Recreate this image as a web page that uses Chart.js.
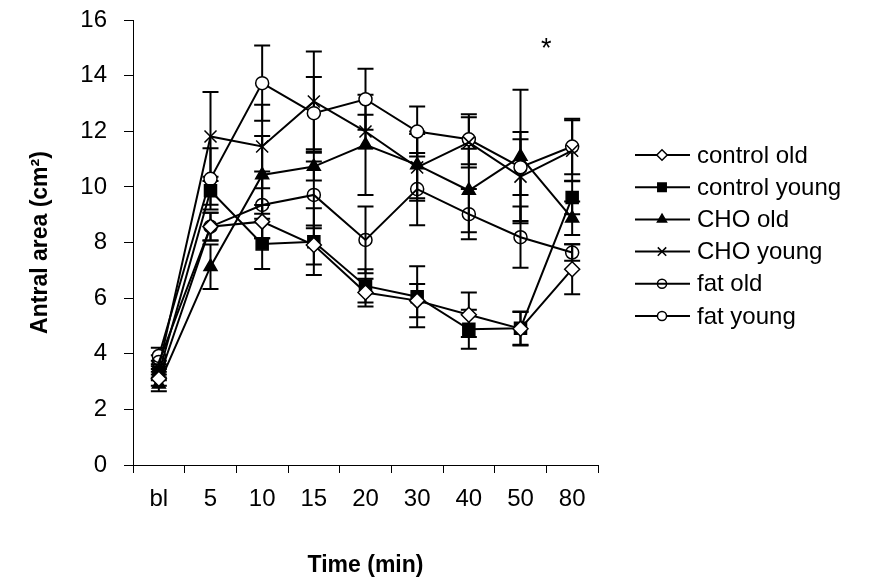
<!DOCTYPE html>
<html>
<head>
<meta charset="utf-8">
<script src="https://cdn.jsdelivr.net/npm/chart.js@4.4.0/dist/chart.umd.min.js"></script>
<style>
  html, body { margin: 0; padding: 0; background: #fff; }
  #wrap { width: 881px; height: 587px; }
</style>
</head>
<body>
<div id="wrap"><canvas id="myChart"></canvas></div>
<script>
// categories (x axis)
var labels = ['bl', '5', '10', '15', '20', '30', '40', '50', '80'];

// series means
var controlOld   = [3.1, 8.57, 8.75, 7.91, 6.2, 5.91, 5.4, 4.9, 7.04];
var controlYoung = [3.3, 9.86, 7.95, 8.03, 6.44, 6.05, 4.88, 4.92, 9.62];
var choOld       = [2.9, 7.13, 10.43, 10.73, 11.51, 10.79, 9.87, 11.09, 8.87];
var choYoung     = [3.5, 11.81, 11.45, 13.07, 11.99, 10.7, 11.6, 10.37, 11.3];
var fatOld       = [3.7, 8.57, 9.35, 9.71, 8.09, 9.92, 9.02, 8.19, 7.64];
var fatYoung     = [3.92, 10.29, 13.73, 12.65, 13.15, 11.99, 11.71, 10.71, 11.45];

// error bars (+/-)
var controlOldErr   = [0.25, 0.5, 0.6, 0.7, 0.5, 0.6, 0.8, 0.6, 0.9];
var controlYoungErr = [0.25, 0.5, 0.9, 1.2, 0.6, 1.1, 0.7, 0.6, 0.6];
var choOldErr       = [0.25, 0.8, 1.4, 0.5, 1.8, 1.2, 1.5, 2.4, 0.6];
var choYoungErr     = [0.25, 1.6, 1.5, 1.8, 0.6, 1.2, 0.9, 1.6, 1.1];
var fatOldErr       = [0.25, 0.5, 1.2, 1.2, 1.2, 1.3, 0.9, 1.1, 0.3];
var fatYoungErr     = [0.3, 1.1, 1.35, 1.3, 1.1, 0.9, 0.9, 1.0, 1.0];

var yTicks = [0, 2, 4, 6, 8, 10, 12, 14, 16];

var FONT = "'Liberation Sans', Arial, sans-serif";

function series(label, data, err, style, radius, fill) {
  return {
    label: label,
    data: data,
    errors: err,
    borderColor: '#000',
    borderWidth: 2,
    pointStyle: style,
    pointRadius: radius,
    pointHoverRadius: radius,
    pointBackgroundColor: fill,
    pointBorderColor: '#000',
    pointBorderWidth: 1.5,
    backgroundColor: fill,
    fill: false,
    tension: 0
  };
}

var datasets = [
  series('control old', controlOld, controlOldErr, 'rectRot', 7.5, '#fff'),
  series('control young', controlYoung, controlYoungErr, 'rect', 8.5, '#000'),
  series('CHO old', choOld, choOldErr, 'triangle', 7.5, '#000'),
  series('CHO young', choYoung, choYoungErr, 'crossRot', 8.5, '#000'),
  series('fat old', fatOld, fatOldErr, 'circle', 6.5, 'rgba(0,0,0,0)'),
  series('fat young', fatYoung, fatYoungErr, 'circle', 6.5, '#fff')
];

// error bars, drawn under the markers
var errorBars = {
  id: 'errorBars',
  beforeDatasetsDraw: function(chart) {
    var ctx = chart.ctx;
    var yScale = chart.scales.y;
    ctx.save();
    ctx.strokeStyle = '#000';
    ctx.lineWidth = 2;
    chart.data.datasets.forEach(function(ds, i) {
      var meta = chart.getDatasetMeta(i);
      meta.data.forEach(function(pt, j) {
        var e = ds.errors[j];
        var yTop = yScale.getPixelForValue(ds.data[j] + e);
        var yBot = yScale.getPixelForValue(ds.data[j] - e);
        ctx.beginPath();
        ctx.moveTo(pt.x, yTop); ctx.lineTo(pt.x, yBot);
        ctx.moveTo(pt.x - 8, yTop); ctx.lineTo(pt.x + 8, yTop);
        ctx.moveTo(pt.x - 8, yBot); ctx.lineTo(pt.x + 8, yBot);
        ctx.stroke();
      });
    });
    ctx.restore();
  }
};

// significance mark between 50 and 80
var starMark = {
  id: 'starMark',
  afterDatasetsDraw: function(chart) {
    var ctx = chart.ctx;
    var x = (chart.scales.x.getPixelForValue(7) + chart.scales.x.getPixelForValue(8)) / 2;
    var y = chart.scales.y.getPixelForValue(15.2);
    ctx.save();
    ctx.fillStyle = '#000';
    ctx.font = '27px ' + FONT;
    ctx.textAlign = 'center';
    ctx.textBaseline = 'alphabetic';
    ctx.fillText('*', x, y + 15);
    ctx.restore();
  }
};

// legend: line with marker, then the series name
var lineLegend = {
  id: 'lineLegend',
  afterDraw: function(chart) {
    var ctx = chart.ctx;
    var ca = chart.chartArea;
    var x0 = ca.right + 37;
    var y0 = ca.top + 135;
    ctx.save();
    chart.data.datasets.forEach(function(ds, i) {
      var y = y0 + i * 32.2;
      ctx.strokeStyle = '#000';
      ctx.lineWidth = 2;
      ctx.beginPath();
      ctx.moveTo(x0, y); ctx.lineTo(x0 + 55, y);
      ctx.stroke();
      ctx.fillStyle = ds.pointBackgroundColor;
      ctx.lineWidth = 1.5;
      Chart.helpers.drawPoint(ctx, {pointStyle: ds.pointStyle, radius: ds.pointRadius * 0.7, rotation: 0, borderWidth: 1.5}, x0 + 27, y);
      ctx.fillStyle = '#000';
      ctx.font = '24px ' + FONT;
      ctx.textAlign = 'left';
      ctx.textBaseline = 'middle';
      ctx.fillText(ds.label, x0 + 62, y + 1);
    });
    ctx.restore();
  }
};

var ctx = document.getElementById('myChart');
var chart = new Chart(ctx, {
  type: 'line',
  data: { labels: labels, datasets: datasets },
  plugins: [errorBars, starMark, lineLegend],
  options: {
    responsive: true,
    maintainAspectRatio: false,
    animation: false,
    layout: { padding: { left: 27, right: 283, top: 20, bottom: 8 } },
    plugins: {
      tooltip: { enabled: false },
      legend: { display: false }
    },
    scales: {
      x: {
        offset: true,
        afterFit: function(scale) { scale.height = 114; },
        grid: { display: true, drawOnChartArea: false, offset: true, tickLength: 8, color: '#000', lineWidth: 1 },
        border: { color: '#000', width: 1 },
        ticks: { color: '#000', padding: 12, font: { family: FONT, size: 24 }, maxRotation: 0 },
        title: { display: true, text: 'Time (min)', color: '#000', padding: { top: 0, bottom: 0 }, font: { family: FONT, size: 23, weight: 'bold' } }
      },
      y: {
        min: 0,
        max: 16,
        afterBuildTicks: function(scale) {
          scale.ticks = yTicks.map(function(v) { return { value: v }; });
        },
        afterFit: function(scale) { scale.width = 106; scale.paddingTop = 0; scale.paddingBottom = 0; },
        grid: { display: true, drawOnChartArea: false, tickLength: 9, color: '#000', lineWidth: 1 },
        border: { color: '#000', width: 1 },
        ticks: { color: '#000', padding: 17, font: { family: FONT, size: 24 } },
        title: { display: true, text: 'Antral area (cm\u00B2)', color: '#000', padding: { top: 0, bottom: 0 }, font: { family: FONT, size: 23, weight: 'bold' } }
      }
    }
  }
});
</script>
</body>
</html>
